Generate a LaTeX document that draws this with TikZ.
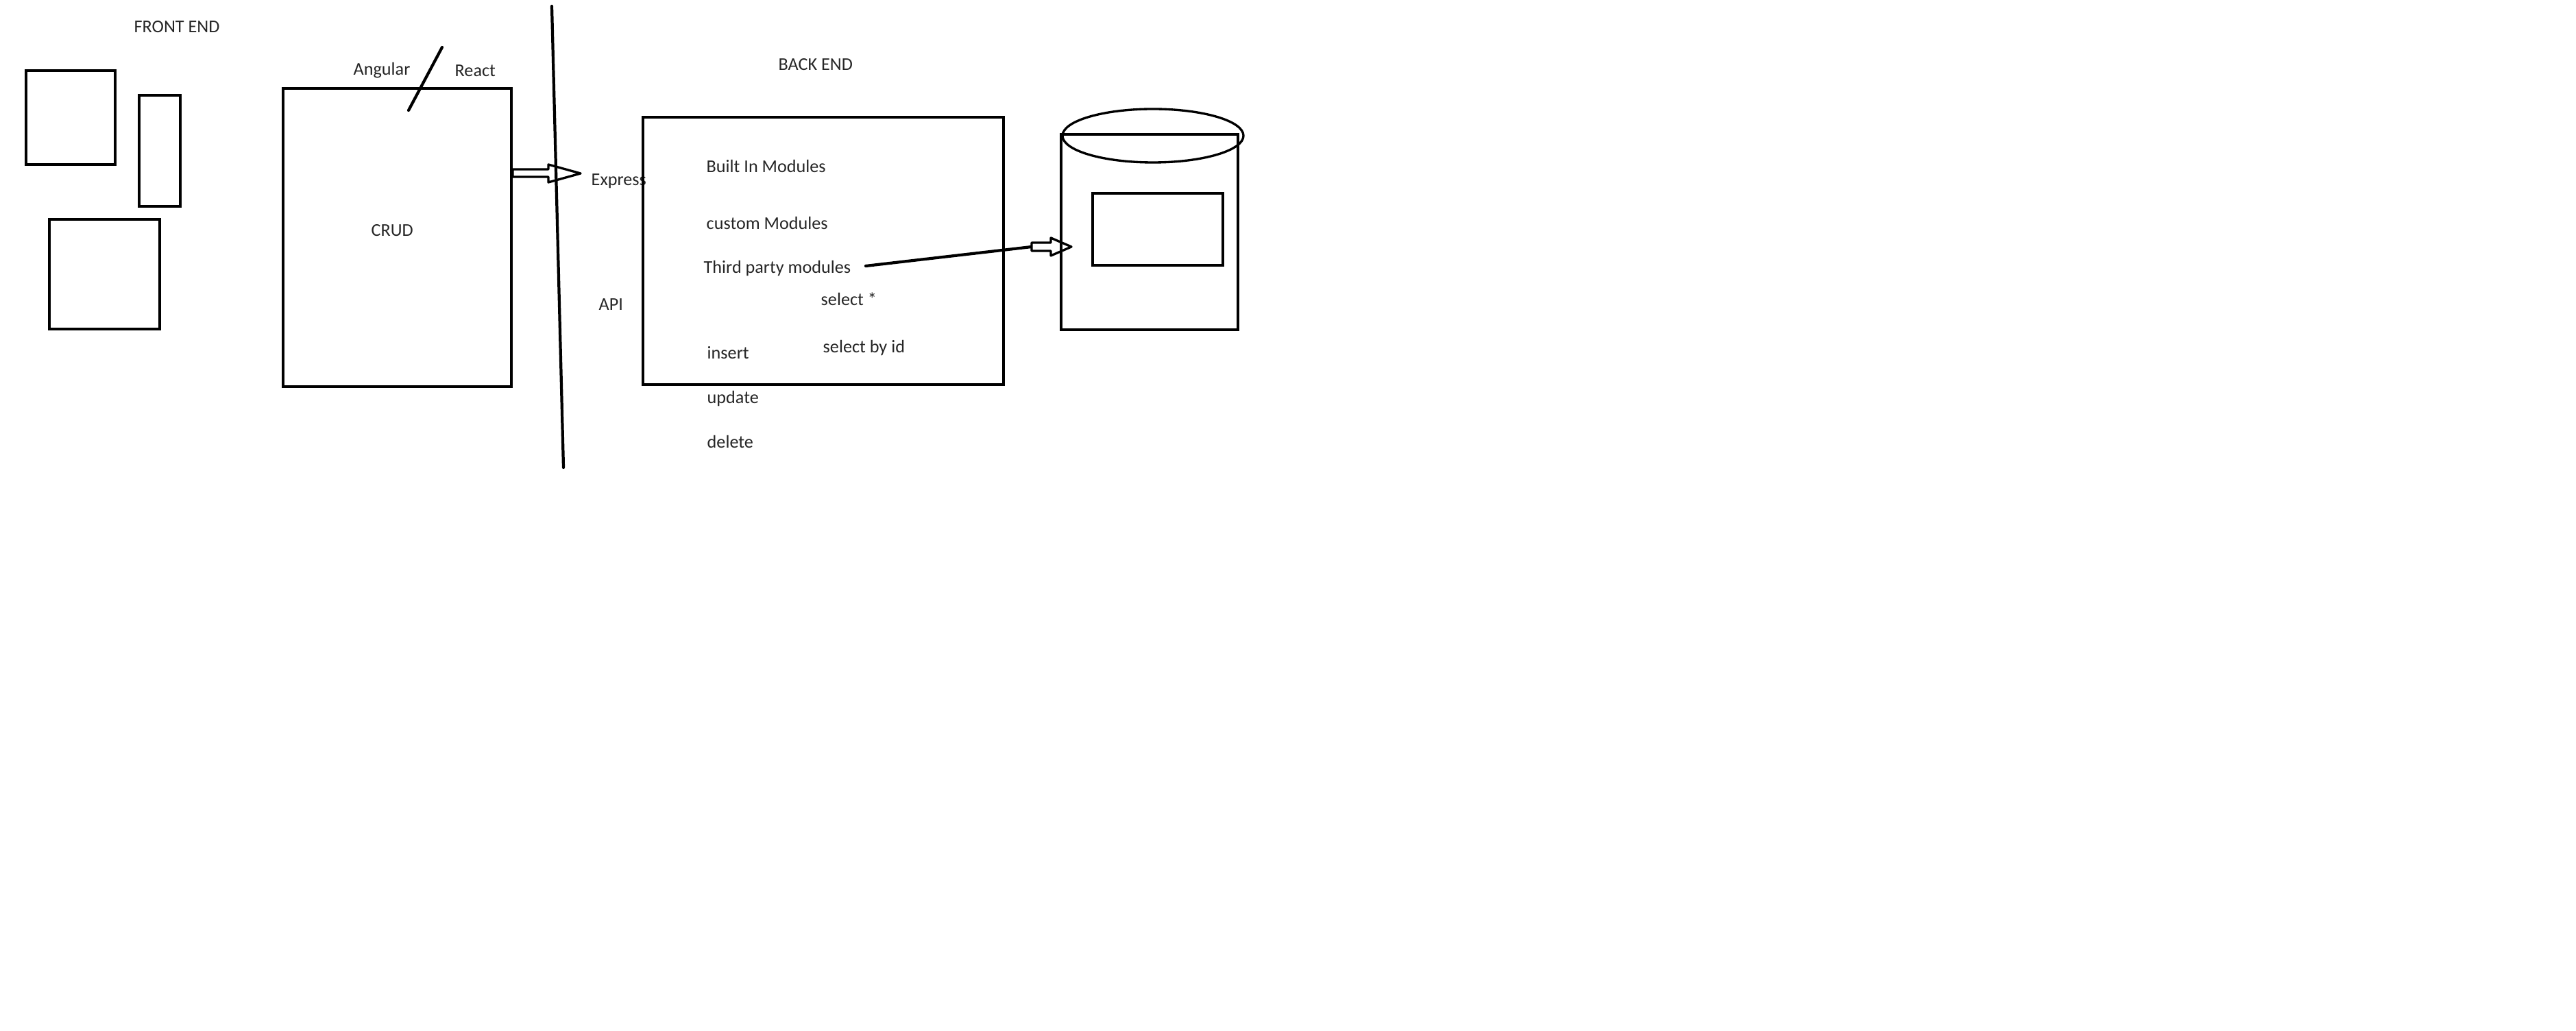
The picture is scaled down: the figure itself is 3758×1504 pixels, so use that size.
\documentclass[tikz,border=0pt]{standalone}
\usepackage{fontspec}
\setmainfont{Carlito}
\begin{document}
\begin{tikzpicture}[x=0.01cm, y=-0.01cm,
  box/.style={draw=black, line width=1.35pt, inner sep=0pt},
  lbl/.style={anchor=base west, inner sep=0pt, text=black!85,
    font=\fontsize{7.45pt}{9pt}\selectfont},
  pen/.style={draw=black, line width=1.2pt, line cap=round},
  hollow/.style={draw=black, line width=0.95pt, line join=round, fill=white}]
  \fill[white] (0,0) rectangle (3758,1504);
  \useasboundingbox (0,0) rectangle (3758,1504);

  % front end sketches
  \node[box, minimum width=130*0.01cm, minimum height=137*0.01cm] (fa) at (103,171.5) {};
  \node[box, minimum width=60*0.01cm, minimum height=162*0.01cm] (fb) at (233,220) {};
  \node[box, minimum width=161*0.01cm, minimum height=160*0.01cm] (fc) at (152.5,400) {};
  \node[box, minimum width=333*0.01cm, minimum height=435*0.01cm] (crud) at (579.5,346.5) {};

  \node[lbl] (fe) at (195,48) {FRONT END};
  \node[lbl] (ang) at (515,110) {Angular};
  \node[lbl] (rea) at (663,112) {React};
  \node[lbl] (crudt) at (541,345) {CRUD};

  \coordinate (s1) at (645,69);
  \coordinate (s2) at (596,161);
  \draw[pen] (s1) -- (s2);

  % block arrow from the CRUD box towards Express
  \draw[hollow] (748,247) -- (800,247) -- (800,240) -- (847,253) -- (800,266)
    -- (800,258) -- (748,258) -- cycle;

  % front / back divider
  \coordinate (d1) at (805,9);
  \coordinate (d2) at (822,682);
  \draw[pen] (d1) -- (d2);

  \node[lbl] (exp) at (862,271) {Express};
  \node[lbl] (api) at (873,453) {API};
  \node[lbl] (be) at (1135,103) {BACK END};

  % back end box
  \node[box, minimum width=526*0.01cm, minimum height=390*0.01cm] (back) at (1201,366) {};
  \node[lbl] (bim) at (1030,252) {Built In Modules};
  \node[lbl] (cm) at (1030,335) {custom Modules};
  \node[lbl] (tpm) at (1026,399) {Third party modules};
  \node[lbl] (sa) at (1197,446) {select *};
  \node[lbl] (sid) at (1200,515) {select by id};
  \node[lbl] (ins) at (1031,524) {insert};
  \node[lbl] (upd) at (1031,589) {update};
  \node[lbl] (del) at (1031,654) {delete};

  % connector from third party modules to the database
  \coordinate (c1) at (1263,388);
  \coordinate (c2) at (1505,360);
  \draw[pen] (c1) -- (c2);
  \draw[hollow] (1505,354) -- (1533,354) -- (1533,347) -- (1563,360) -- (1533,373)
    -- (1533,366) -- (1505,366) -- cycle;

  % database cylinder
  \node[box, minimum width=258*0.01cm, minimum height=285*0.01cm] (db) at (1677,338.5) {};
  \draw[draw=black, line width=0.95pt] (1682,198) ellipse [x radius=132, y radius=39];
  \node[box, minimum width=190*0.01cm, minimum height=105*0.01cm] (tbl) at (1689,334.5) {};
\end{tikzpicture}
\end{document}
